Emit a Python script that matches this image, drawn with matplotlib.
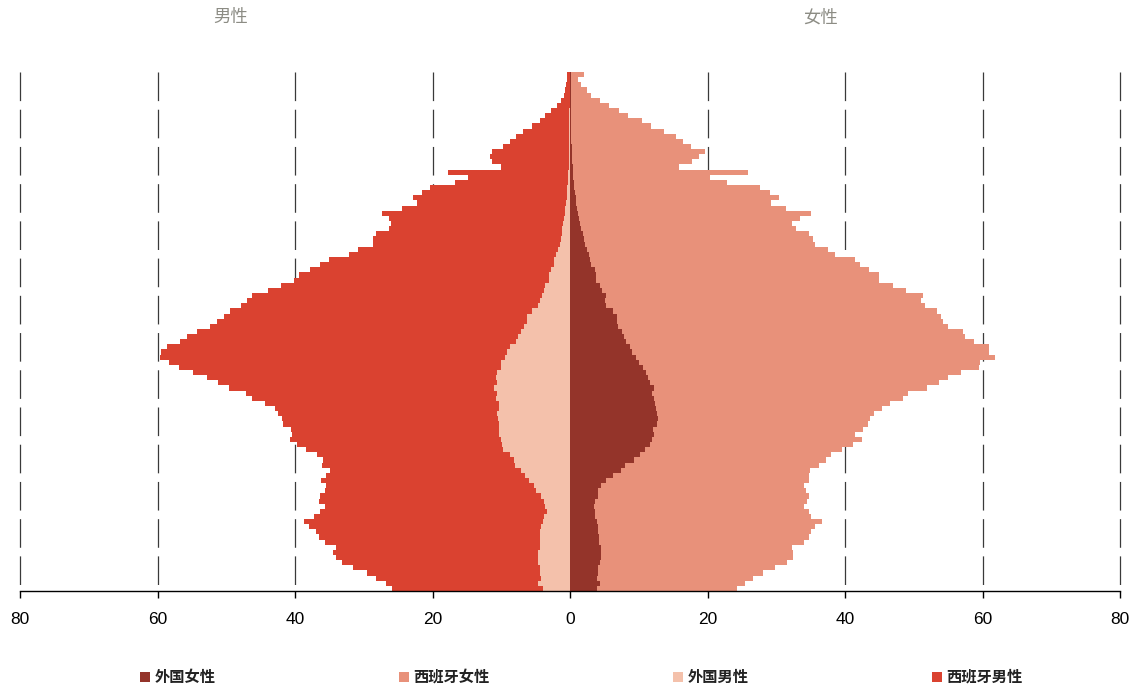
import numpy as np
import matplotlib
matplotlib.use("Agg")
import matplotlib.pyplot as plt
from matplotlib.font_manager import FontProperties

plt.rcParams["lines.scale_dashes"] = False

C_FOR_F = "#94342A"   # 外国女性
C_ESP_F = "#E8917A"   # 西班牙女性
C_FOR_M = "#F4C1AB"   # 外国男性
C_ESP_M = "#DA4230"   # 西班牙男性
CJK = ["Noto Sans CJK SC", "DejaVu Sans"]

ages = list(range(0, 101))

foreign_male = [
    4.0, 4.7, 4.2, 4.3, 4.4, 4.7, 4.6, 4.7, 4.4, 4.4,
    4.3, 4.3, 4.2, 4.0, 3.8, 3.4, 3.7, 3.8, 4.2, 4.9,
    5.3, 6.0, 6.5, 7.1, 8.0, 8.2, 8.8, 9.7, 9.9, 10.1,
    10.4, 10.4, 10.4, 10.5, 10.6, 10.4, 10.4, 10.7, 10.6, 11.0,
    10.6, 10.8, 10.6, 10.1, 10.0, 9.5, 9.1, 8.7, 7.9, 7.5,
    7.1, 6.7, 6.3, 6.2, 5.6, 4.7, 4.4, 4.1, 3.8, 3.6,
    3.1, 3.0, 2.8, 2.4, 2.3, 2.0, 1.8, 1.5, 1.35, 1.2,
    1.1, 1.0, 0.9, 0.8, 0.7, 0.6, 0.5, 0.45, 0.4, 0.35,
    0.3, 0.25, 0.2, 0.2, 0.2, 0.15, 0.15, 0.15, 0.1, 0.1,
    0.1, 0.1, 0.1, 0.1, 0.05, 0.05, 0.05, 0.05, 0.05, 0.05,
    0.05,
]
spanish_male = [
    21.9, 22.1, 24.0, 25.2, 27.1, 28.5, 29.4, 29.8, 29.6, 31.3,
    32.2, 32.7, 33.8, 34.7, 33.4, 32.9, 31.9, 32.7, 32.1, 30.8,
    30.2, 30.2, 29.0, 27.8, 28.1, 27.8, 28.0, 28.7, 29.8, 30.6,
    30.1, 30.2, 31.3, 31.4, 31.9, 32.5, 34.0, 35.6, 36.5, 38.6,
    40.6, 42.0, 44.3, 46.8, 48.4, 50.2, 50.4, 49.9, 48.9, 48.2,
    47.2, 45.7, 45.0, 44.1, 43.8, 43.1, 42.6, 42.1, 40.1, 38.4,
    37.0, 36.4, 35.0, 33.9, 32.7, 30.2, 29.0, 27.1, 27.25, 27.0,
    25.3, 25.0, 25.4, 26.5, 23.7, 21.6, 22.3, 21.05, 19.9, 16.45,
    14.6, 17.45, 9.9, 11.2, 11.4, 11.15, 9.65, 8.6, 7.8, 6.8,
    5.5, 4.3, 3.5, 2.6, 1.85, 1.3, 0.85, 0.75, 0.55, 0.35,
    0.45,
]
foreign_female = [
    3.9, 4.3, 3.9, 4.0, 4.0, 4.4, 4.5, 4.5, 4.5, 4.2,
    4.2, 4.0, 4.0, 3.9, 3.6, 3.6, 3.5, 3.7, 4.0, 4.0,
    4.5, 5.2, 6.2, 7.4, 8.0, 9.3, 10.2, 10.9, 11.6, 11.9,
    12.2, 12.0, 12.6, 12.8, 12.6, 12.5, 12.4, 12.2, 11.9, 12.2,
    11.7, 11.4, 11.1, 10.6, 10.0, 9.6, 9.0, 8.7, 8.1, 7.8,
    7.5, 7.0, 6.9, 6.9, 6.3, 5.3, 5.1, 5.2, 4.7, 4.3,
    3.8, 3.8, 3.6, 3.1, 2.9, 2.7, 2.5, 2.2, 2.1, 1.9,
    1.6, 1.5, 1.33, 1.2, 1.06, 0.9, 0.8, 0.7, 0.65, 0.55,
    0.5, 0.45, 0.4, 0.35, 0.3, 0.3, 0.25, 0.2, 0.2, 0.15,
    0.1, 0.1, 0.1, 0.1, 0.1, 0.1, 0.1, 0.1, 0.1, 0.1,
    0.1,
]
spanish_female = [
    20.4, 21.1, 22.7, 24.1, 25.8, 27.2, 27.9, 28.0, 27.8, 29.8,
    30.6, 31.1, 31.6, 32.7, 31.5, 31.1, 30.6, 30.7, 30.7, 30.3,
    29.6, 29.5, 28.5, 27.5, 28.2, 28.0, 27.7, 28.6, 29.5, 30.5,
    29.3, 30.6, 30.8, 30.8, 31.6, 32.9, 34.2, 36.2, 37.2, 39.7,
    41.9, 43.6, 45.7, 48.9, 49.7, 52.2, 51.9, 52.2, 50.6, 49.7,
    49.6, 48.0, 47.4, 47.0, 47.1, 46.3, 45.9, 46.2, 44.2, 42.7,
    41.2, 41.1, 39.9, 39.1, 38.6, 35.9, 35.0, 33.4, 33.2, 32.8,
    31.3, 30.8, 32.17, 33.8, 30.34, 28.4, 29.6, 28.4, 27.05, 22.35,
    19.9, 25.45, 15.4, 17.45, 18.5, 19.3, 17.35, 16.2, 15.2, 13.45,
    11.7, 10.3, 8.4, 7.0, 5.5, 4.2, 3.0, 2.3, 1.55, 1.1,
    2.0,
]

xticks = [-80, -60, -40, -20, 0, 20, 40, 60, 80]

fig = plt.figure(figsize=(11.34, 6.92), dpi=100)
ax = fig.add_axes([20 / 1134, 101 / 692, 1100 / 1134, 519 / 692])

fm = np.array(foreign_male); sm = np.array(spanish_male)
ff = np.array(foreign_female); sf = np.array(spanish_female)

# dashed guides behind the bars, pattern starting at the top
for v in xticks:
    if v == 0:
        continue
    ax.plot([v, v], [100.5, -0.5], color="#3a3a3a", lw=0.9,
            ls=(0, (20.6, 6.2)), zorder=0, clip_on=False)

b_ff = ax.barh(ages, ff, height=1.0, color=C_FOR_F, lw=0, zorder=2)
b_sf = ax.barh(ages, sf, left=ff, height=1.0, color=C_ESP_F, lw=0, zorder=2)
b_fm = ax.barh(ages, -fm, height=1.0, color=C_FOR_M, lw=0, zorder=2)
b_sm = ax.barh(ages, -sm, left=-fm, height=1.0, color=C_ESP_M, lw=0, zorder=2)

ax.set_xlim(-80, 80)
ax.set_ylim(-0.5, 100.5)
ax.set_yticks([])
ax.set_xticks(xticks)
ax.set_xticklabels([str(abs(v)) for v in xticks], fontfamily="Liberation Sans")
ax.tick_params(axis="x", direction="out", length=5, width=1, pad=10,
               labelsize=12.5, colors="black")
for s in ("left", "right", "top"):
    ax.spines[s].set_visible(False)
ax.spines["bottom"].set_color("black")
ax.spines["bottom"].set_linewidth(1.0)
ax.spines["bottom"].set_zorder(3)

fig.text(0.2037, 0.975, "男性", ha="center", va="center", fontsize=12.5,
         color="#8c8c84", family=CJK)
fig.text(0.7240, 0.975, "女性", ha="center", va="center", fontsize=12.5,
         color="#8c8c84", family=CJK)

fig.legend([b_ff, b_sf, b_fm, b_sm], ["外国女性", "西班牙女性", "外国男性", "西班牙男性"],
           loc="center", bbox_to_anchor=(0.5128, 0.0217), ncol=4, frameon=False,
           columnspacing=12.0, handlelength=0.65, handleheight=0.65, handletextpad=0.3,
           borderpad=0, prop=FontProperties(family=CJK, size=11, weight="bold"),
           labelcolor="#222222")

fig.savefig("out.png", dpi=100, facecolor="white")
